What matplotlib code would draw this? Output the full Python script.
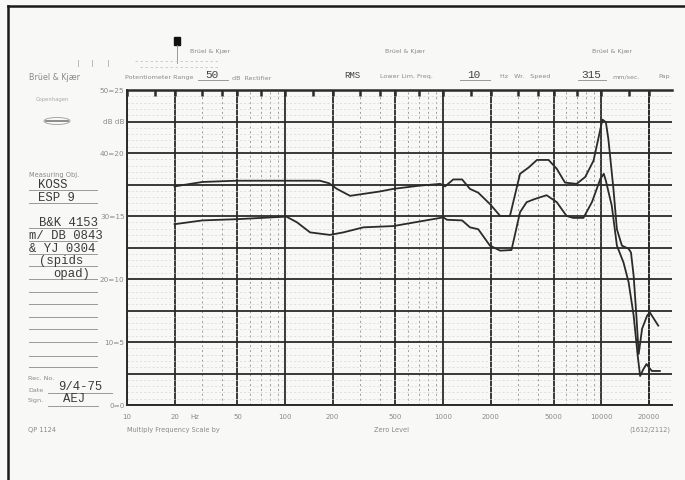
import matplotlib
matplotlib.use("Agg")
import matplotlib.pyplot as plt
from matplotlib.lines import Line2D
from matplotlib.patches import Ellipse, Rectangle
from matplotlib.ticker import FixedLocator, NullFormatter

W, H = 685, 481

# upper trace (Hz, dB)
freq_upper = [20, 30, 49, 100, 166, 190, 213, 258, 311, 400, 483, 700, 960, 1030,
              1160, 1320, 1480, 1670, 1980, 2300, 2650, 3070, 3480, 3930, 4650,
              5240, 5910, 7000, 7940, 8960, 10200, 10720, 11120, 11970, 12590,
              13540, 14930, 15460, 16070, 16720, 17300, 18170, 19570, 20330,
              21560, 23000]
level_upper = [34.7, 35.4, 35.6, 35.6, 35.6, 35.2, 34.3, 33.2, 33.5, 33.9, 34.3,
               34.8, 35.1, 34.7, 35.8, 35.8, 34.3, 33.7, 31.9, 30.0, 30.0, 36.7,
               37.7, 38.9, 38.9, 37.5, 35.3, 35.1, 36.2, 38.8, 45.3, 44.9, 42.2,
               34.3, 27.9, 25.3, 24.8, 24.2, 20.5, 14.2, 8.1, 12.1, 14.2, 14.7,
               13.7, 12.6]

# lower trace (Hz, dB)
freq_lower = [20, 30, 50, 102, 119, 144, 192, 234, 313, 484, 960, 1000, 1060,
              1320, 1480, 1670, 1980, 2300, 2710, 3070, 3380, 3810, 4520, 5240,
              6050, 6660, 7730, 8750, 9900, 10400, 10720, 11690, 12590, 13870,
              14930, 16070, 17050, 17660, 18530, 19380, 20030, 20960, 23540]
level_lower = [28.7, 29.3, 29.5, 29.9, 29.0, 27.4, 27.0, 27.4, 28.2, 28.4, 29.7,
               29.8, 29.4, 29.3, 28.2, 27.9, 25.3, 24.5, 24.6, 30.6, 32.2, 32.7,
               33.3, 32.2, 30.0, 29.7, 29.7, 32.2, 35.9, 36.7, 35.6, 31.6, 25.3,
               22.6, 19.5, 14.2, 7.8, 4.6, 5.7, 6.5, 6.0, 5.4, 5.4]

freq_labels = [10, 20, 50, 100, 200, 500, 1000, 2000, 5000, 10000, 20000]
db_labels = ["0=0", "10=5", "20=10", "30=15", "40=20", "dB dB", "50=25"]
db_label_values = [0, 10, 20, 30, 40, 45, 50]

PAPER = "#f8f8f6"
INK = "#2b2b2b"
GREY = "#8a8a8a"
TYPED = "#3a3a3a"
MONO = "Liberation Mono"


def fx(x):
    return x / W


def fy(y):
    return 1 - y / H


def label(x, y, s, size=5.0, color=GREY, ha="left", **kw):
    fig.text(fx(x), fy(y), s, fontsize=size, color=color, ha=ha, va="center", **kw)


def hline(x0, x1, y, color="#9a9a9a", lw=0.7, ls="-"):
    fig.add_artist(Line2D([fx(x0), fx(x1)], [fy(y), fy(y)], color=color, lw=lw, ls=ls))


fig = plt.figure(figsize=(W / 100, H / 100), dpi=100, facecolor=PAPER)
ax = fig.add_axes([fx(127), fy(406), fx(672) - fx(127), fy(91) - fy(406)])
ax.set_facecolor(PAPER)
ax.set_xscale("log")
ax.set_xlim(10, 28100)
ax.set_ylim(0, 50)

# vertical chart lines: solid at 1-2-5, dotted in between
for decade in [10, 100, 1000, 10000]:
    for m in range(1, 10):
        f = decade * m
        if f > 20000:
            continue
        if m in (1, 2, 5):
            ax.axvline(f, color=INK, lw=1.3, zorder=1)
        else:
            ax.axvline(f, color="#9a9a9a", lw=0.7, ls=(0, (2, 3)), zorder=1)
ax.axvline(20000, color=INK, lw=1.3, zorder=1)

# horizontal chart lines
for v in range(0, 50):
    if v % 5 == 0:
        ax.axhline(v, color=INK, lw=1.3, zorder=1)
    else:
        ax.axhline(v, color="#d6d6d6", lw=0.5, ls=(0, (3, 3)), zorder=1)

ax.plot(freq_upper, level_upper, color=INK, lw=1.3, zorder=3)
ax.plot(freq_lower, level_lower, color=INK, lw=1.3, zorder=3)

ax.spines["right"].set_visible(False)
for side in ["left", "bottom", "top"]:
    ax.spines[side].set_color(INK)
    ax.spines[side].set_linewidth(1.4)
ax.spines["top"].set_linewidth(1.8)

top_ticks = [d * m for d in [10, 100, 1000, 10000] for m in (1, 1.5, 2, 3, 4, 5, 7)
             if d * m <= 28000]
ax.xaxis.set_major_locator(FixedLocator(top_ticks))
ax.xaxis.set_minor_locator(FixedLocator([]))
ax.xaxis.set_major_formatter(NullFormatter())
ax.tick_params(axis="x", which="major", top=True, bottom=False, direction="in",
               length=4, width=1.8, color=INK)
ax.set_yticks([])

# frequency numbers under the chart
for f in freq_labels:
    ax.text(f, -1.8, str(f), fontsize=5, color=GREY, ha="center", va="center")
ax.text(27, -1.8, "Hz", fontsize=5, color=GREY, ha="center", va="center")

for v, s in zip(db_label_values, db_labels):
    ax.text(9.65, v, s, fontsize=5.2, color=GREY, ha="right", va="center")

# outer paper frame
fig.add_artist(Line2D([fx(8), fx(8)], [fy(7), fy(481)], color="#1a1a1a", lw=1.8))
fig.add_artist(Line2D([fx(8), fx(685)], [fy(7), fy(7)], color="#1a1a1a", lw=1.8))

# top header row
for x in [190, 385, 592]:
    label(x, 52, "Brüel & Kjær", size=4.5)
fig.add_artist(Line2D([fx(177), fx(177)], [fy(46), fy(64)], color=GREY, lw=0.6))
fig.add_artist(Rectangle((fx(174), fy(46)), fx(6), 8 / H, color="#111111",
                         transform=fig.transFigure))
for x in [78, 92, 108]:
    fig.add_artist(Line2D([fx(x), fx(x)], [fy(61), fy(67)], color="#b0b0b0", lw=0.6))
hline(135, 220, 62, color="#c8c8c8", lw=0.6, ls=(0, (3, 3)))
hline(140, 220, 68, color="#c8c8c8", lw=0.6, ls=(0, (3, 3)))

# recorder settings row
label(29, 78, "Brüel & Kjær", size=5.8)
label(125, 78, "Potentiometer Range", size=4.6)
label(205, 75, "50", size=8, color="#444444", family=MONO)
hline(198, 228, 81)
label(232, 78, "dB  Rectifier", size=4.6)
label(344, 75, "RMS", size=6.5, color="#444444", family=MONO)
label(380, 77, "Lower Lim. Freq.", size=4.6)
label(467, 75, "10", size=8, color="#444444", family=MONO)
hline(460, 490, 81)
label(500, 77, "Hz   Wr.   Speed", size=4.6)
label(581, 75, "315", size=8, color="#444444", family=MONO)
hline(578, 606, 81)
label(612, 77, "mm/sec.", size=4.6)
label(658, 77, "Pap", size=4.6)

# left panel
label(36, 100, "Copenhagen", size=3.8, color="#aaaaaa")
fig.add_artist(Ellipse((fx(57), fy(122)), 26 / W, 7 / H, facecolor="none",
                       edgecolor="#9a9a9a", lw=0.6))
hline(46, 68, 122, color="#7a7a7a", lw=1.2)

label(29, 175, "Measuring Obj.", size=4.8)
typed = [(38, 185, "KOSS"), (38, 198, "ESP 9"), (39, 223, "B&K 4153"),
         (29, 236, "m/ DB 0843"), (29, 249, "& YJ 0304"), (39, 261, "(spids"),
         (53, 274, "opad)")]
for x, y, s in typed:
    label(x, y, s, size=8.8, color=TYPED, family=MONO)
for y in [191, 204, 229, 242, 255, 267, 280, 293, 305, 318, 330, 343, 357, 368]:
    hline(29, 97, y)

label(28, 378, "Rec. No.", size=4.6)
label(28, 391, "Date", size=4.6)
label(58, 387, "9/4-75", size=8.8, color=TYPED, family=MONO)
hline(48, 112, 394)
label(28, 401, "Sign.", size=4.6)
label(63, 399, "AEJ", size=8.8, color=TYPED, family=MONO)
hline(48, 98, 407)

# bottom line of text
label(28, 430, "QP 1124", size=4.8)
label(127, 430, "Multiply Frequency Scale by", size=4.8)
label(392, 430, "Zero Level", size=4.8, ha="center")
label(670, 430, "(1612/2112)", size=4.8, ha="right")

fig.savefig("out.png", dpi=100, facecolor=PAPER)
